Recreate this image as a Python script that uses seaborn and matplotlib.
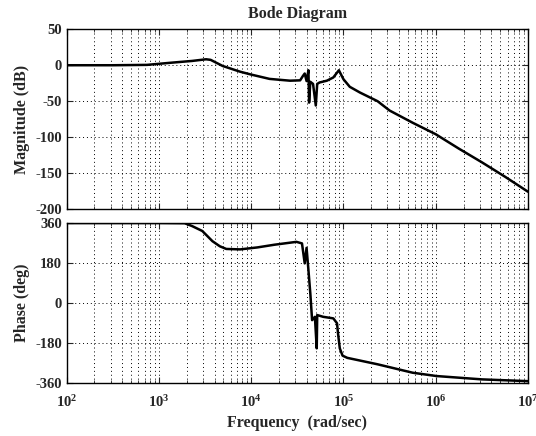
import numpy as np
import pandas as pd
import matplotlib
matplotlib.use("Agg")
import matplotlib.pyplot as plt
import seaborn as sns

# MATLAB-like look: white background, inward ticks, serif bold text
sns.set_style("ticks", {"xtick.direction": "in", "ytick.direction": "in"})
plt.rcParams['font.family'] = ['Liberation Serif', 'DejaVu Serif']
plt.rcParams['font.weight'] = 'bold'
plt.rcParams['axes.unicode_minus'] = False
plt.rcParams['mathtext.fontset'] = 'custom'
plt.rcParams['mathtext.rm'] = 'Liberation Serif:bold'
plt.rcParams['mathtext.bf'] = 'Liberation Serif:bold'

# Magnitude response (rad/sec, dB)
mag_freq = [1e2, 3.16e2, 7.41e2, 1.35e3, 2.29e3, 3.24e3, 3.63e3, 4.90e3, 7.59e3,
            1.0e4, 1.58e4, 2.63e4, 3.39e4, 3.63e4, 3.80e4, 3.98e4, 4.17e4, 4.24e4,
            4.37e4, 4.68e4, 5.01e4, 5.19e4, 5.50e4, 6.61e4, 7.76e4, 8.91e4, 1.0e5,
            1.17e5, 1.51e5, 1.95e5, 2.34e5, 3.16e5, 5.62e5, 1.0e6, 1.78e6, 3.16e6,
            5.62e6, 1.0e7]
mag_db = [0, 0, 0.5, 3.5, 6, 8.3, 7.5, -1, -9,
          -13, -19, -21.5, -21, -15, -11.5, -22, -7, -52,
          -23, -26, -56, -26, -24, -21.5, -17, -7, -19.5,
          -30, -38, -45, -50, -63, -80, -96, -116, -135,
          -155, -176]

# Phase response (rad/sec, deg)
ph_freq = [1e2, 1.0e3, 1.9e3, 2.29e3, 2.95e3, 3.80e3, 4.57e3, 5.37e3, 7.59e3,
           1.17e4, 1.78e4, 3.09e4, 3.55e4, 3.80e4, 3.98e4, 4.17e4, 4.37e4, 4.57e4,
           4.90e4, 5.13e4, 5.19e4, 6.03e4, 7.76e4, 8.51e4, 8.71e4, 9.12e4, 9.77e4,
           1.10e5, 2.34e5, 5.62e5, 1.02e6, 3.16e6, 1.0e7]
ph_deg = [360, 360, 359, 346, 324, 278, 255, 243, 241,
          250, 262, 275, 268, 178, 248, 148, 43, -78,
          -63, -205, -55, -63, -70, -92, -135, -205, -238,
          -248, -277, -315, -330, -345, -353]

mag_ticks = [-200, -150, -100, -50, 0, 50]
ph_ticks = [-360, -180, 0, 180, 360]
dec_ticks = [1e2, 1e3, 1e4, 1e5, 1e6, 1e7]
dec_labels = [r'$\mathbf{10^{%d}}$' % k for k in range(2, 8)]

mag_df = pd.DataFrame({'freq': mag_freq, 'mag': mag_db})
ph_df = pd.DataFrame({'freq': ph_freq, 'phase': ph_deg})

W, H = 536, 436
fig = plt.figure(figsize=(W / 100, H / 100), dpi=100)
left, right = 66.7, 528
ax1 = fig.add_axes([left / W, 1 - 209 / H, (right - left) / W, (209 - 29.3) / H])
ax2 = fig.add_axes([left / W, 1 - 382.7 / H, (right - left) / W, (382.7 - 223) / H])

grid_kw = dict(color='black', linestyle=(0, (1, 3)), linewidth=0.7)

for ax in (ax1, ax2):
    ax.set_xscale('log')

sns.lineplot(data=mag_df, x='freq', y='mag', ax=ax1, color='black', linewidth=1.8,
             estimator=None, sort=False)
sns.lineplot(data=ph_df, x='freq', y='phase', ax=ax2, color='black', linewidth=1.8,
             estimator=None, sort=False)

ax1.set_ylim(-200, 50)
ax1.set_yticks(mag_ticks)
ax2.set_ylim(-360, 360)
ax2.set_yticks(ph_ticks)

for ax in (ax1, ax2):
    ax.set_xlim(1e2, 1e7)
    ax.set_xticks(dec_ticks)
    ax.grid(True, which='both', axis='x', **grid_kw)
    ax.grid(True, which='major', axis='y', **grid_kw)
    ax.tick_params(which='both', top=True, right=True, labelsize=10.5)
    ax.tick_params(which='major', length=4)
    ax.tick_params(which='minor', length=2)
    for sp in ax.spines.values():
        sp.set_linewidth(1.0)
        sp.set_color('black')
    for lab in ax.get_yticklabels():
        lab.set_fontweight('bold')

ax1.set_xticklabels([])
ax1.set_xlabel('')
ax2.set_xticklabels(dec_labels)
ax2.tick_params(axis='x', pad=8)

ax1.set_ylabel('Magnitude (dB)', fontsize=11.5, fontweight='bold', labelpad=4)
ax2.set_ylabel('Phase (deg)', fontsize=11.5, fontweight='bold', labelpad=4)
ax2.set_xlabel('Frequency  (rad/sec)', fontsize=11.5, fontweight='bold', labelpad=4)
ax1.set_title('Bode Diagram', fontsize=11.5, fontweight='bold', pad=8)
fig.align_ylabels([ax1, ax2])

fig.savefig('out.png', dpi=100, facecolor='white')
